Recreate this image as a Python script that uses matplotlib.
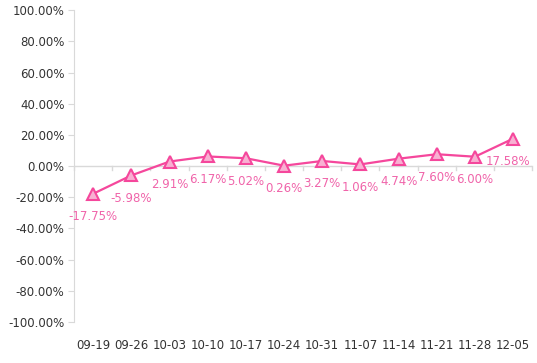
import numpy as np
import matplotlib
matplotlib.use("Agg")
import matplotlib.pyplot as plt
from matplotlib.ticker import FuncFormatter

dates = ["09-19", "09-26", "10-03", "10-10", "10-17", "10-24",
         "10-31", "11-07", "11-14", "11-21", "11-28", "12-05"]
values = [-17.75, -5.98, 2.91, 6.17, 5.02, 0.26,
          3.27, 1.06, 4.74, 7.60, 6.00, 17.58]
yticks = [-100, -80, -60, -40, -20, 0, 20, 40, 60, 80, 100]

pink = "#f5479c"
label_pink = "#f064aa"
grey = "#d9d9d9"

fig = plt.figure(figsize=(5.37, 3.63), dpi=100)
ax = fig.add_axes([0.138, 0.113, 0.853, 0.859])

x = np.arange(len(dates))
ax.plot(x, values, color=pink, lw=1.6, marker="^", markersize=9,
        markerfacecolor="#f8b0d2", markeredgecolor=pink, markeredgewidth=1.5,
        zorder=3)

for xi, v in zip(x, values):
    dx = -4 if xi == len(x) - 1 else 0
    ax.annotate(f"{v:.2f}%", (xi, v), xytext=(dx, -16.5), textcoords="offset points",
                ha="center", va="center", color=label_pink, fontsize=8.5,
                annotation_clip=False)

ax.set_xlim(-0.5, len(dates) - 0.5)
ax.set_ylim(-100, 100)
ax.set_yticks(yticks)
ax.yaxis.set_major_formatter(FuncFormatter(lambda v, p: f"{v:.2f}%"))
ax.set_xticks(x)
ax.set_xticklabels(dates)
ax.tick_params(axis="x", length=0, pad=12, labelsize=8.5, labelcolor="#333333")
ax.tick_params(axis="y", length=4, color=grey, labelsize=8.5, labelcolor="#333333", pad=3)

for s in ["top", "right", "bottom"]:
    ax.spines[s].set_visible(False)
ax.spines["left"].set_color(grey)

# zero line with category boundary ticks
ax.axhline(0, color=grey, lw=1, zorder=1)
bounds = np.arange(len(dates) + 1) - 0.5
ax.plot(np.repeat(bounds, 3), np.tile([0, -2.6, np.nan], len(bounds)),
        color=grey, lw=1, zorder=1, clip_on=False)

fig.savefig("out.png", dpi=100)
